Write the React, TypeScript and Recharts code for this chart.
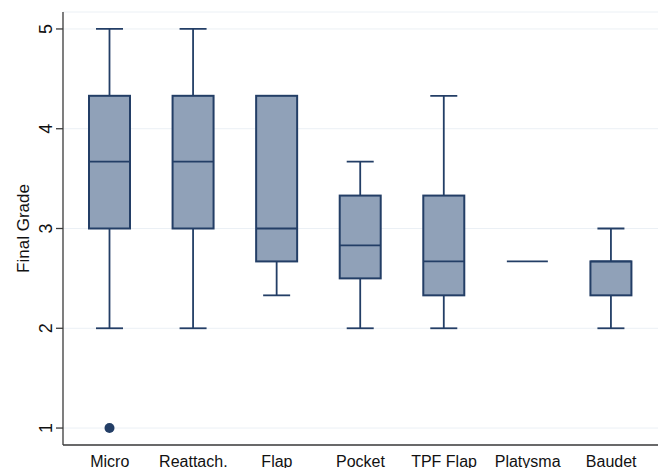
import React from "react";
import { BarChart, Bar, XAxis, YAxis, CartesianGrid } from "recharts";

const categories = ["Micro", "Reattach.", "Flap", "Pocket", "TPF Flap", "Platysma", "Baudet"];
const whiskerLow = [2, 2, 2.33, 2, 2, 2.67, 2];
const q1 = [3, 3, 2.67, 2.5, 2.33, 2.67, 2.33];
const median = [3.67, 3.67, 3, 2.83, 2.67, 2.67, 2.67];
const q3 = [4.33, 4.33, 4.33, 3.33, 3.33, 2.67, 2.67];
const whiskerHigh = [5, 5, 4.33, 3.67, 4.33, 2.67, 3];
const outliers: (number | null)[] = [1, null, null, null, null, null, null];
const yTicks = [1, 2, 3, 4, 5];

const rows = categories.map((name, i) => ({
  name,
  whiskerLow: whiskerLow[i],
  q1: q1[i],
  median: median[i],
  q3: q3[i],
  whiskerHigh: whiskerHigh[i],
  outlier: outliers[i],
  range: [whiskerLow[i], whiskerHigh[i]],
}));

const FONT = '"Liberation Sans", Arial, Helvetica, sans-serif';
const FILL = "#90A1B8";
const STROKE = "#233E66";

const BoxShape = (props: any) => {
  const { x, y, width, height } = props;
  const d = props.payload ?? props;
  const cx = x + width / 2;
  const lo = d.whiskerLow;
  const hi = d.whiskerHigh;
  const span = hi - lo;
  const h = Math.abs(height);
  const top = height >= 0 ? y : y + height;
  const px = (v: number) => (span > 0 ? top + h - ((v - lo) / span) * h : top);
  const capW = 27;
  const yQ1 = px(d.q1);
  const yQ3 = px(d.q3);
  const yMed = px(d.median);
  const yLo = px(lo);
  const yHi = px(hi);
  const isFlat = yQ1 - yQ3 <= 0.5;
  return (
    <g>
      {yLo > yQ1 + 0.5 && (
        <line x1={cx} x2={cx} y1={yQ1} y2={yLo} stroke={STROKE} strokeWidth={1.8} />
      )}
      {yHi < yQ3 - 0.5 && (
        <line x1={cx} x2={cx} y1={yHi} y2={yQ3} stroke={STROKE} strokeWidth={1.8} />
      )}
      {!isFlat && (
        <line x1={cx - capW / 2} x2={cx + capW / 2} y1={yLo} y2={yLo} stroke={STROKE} strokeWidth={1.8} />
      )}
      {!isFlat && (
        <line x1={cx - capW / 2} x2={cx + capW / 2} y1={yHi} y2={yHi} stroke={STROKE} strokeWidth={1.8} />
      )}
      {!isFlat && (
        <rect x={x} y={yQ3} width={width} height={yQ1 - yQ3} fill={FILL} stroke={STROKE} strokeWidth={2} />
      )}
      <line x1={x} x2={x + width} y1={yMed} y2={yMed} stroke={STROKE} strokeWidth={isFlat ? 1.6 : 1.8} />
      {d.outlier != null && (
        <circle cx={cx} cy={px(d.outlier)} r={5} fill={STROKE} />
      )}
    </g>
  );
};

const XTick = (props: any) => {
  const { x, y, payload } = props;
  return (
    <text x={x} y={y + 21.5} textAnchor="middle" fontFamily={FONT} fontSize={16} fill="#111">
      {payload.value}
    </text>
  );
};

const YTick = (props: any) => {
  const { x, y, payload } = props;
  const tx = x - 10;
  return (
    <text
      x={tx}
      y={y}
      transform={`rotate(-90 ${tx} ${y})`}
      textAnchor="middle"
      dominantBaseline="central"
      fontFamily={FONT}
      fontSize={18}
      fill="#111"
    >
      {payload.value}
    </text>
  );
};

const YLabel = (props: any) => {
  const vb = props.viewBox || { x: 0, y: 12, width: 63, height: 433 };
  const lx = vb.x + 23;
  const ly = vb.y + vb.height / 2;
  return (
    <text
      x={lx}
      y={ly}
      transform={`rotate(-90 ${lx} ${ly})`}
      textAnchor="middle"
      dominantBaseline="central"
      fontFamily={FONT}
      fontSize={17}
      fill="#111"
    >
      Final Grade
    </text>
  );
};

export default function App() {
  return (
    <div style={{ position: "absolute", left: 0, top: 0, width: 663, height: 468, background: "#fff" }}>
      <BarChart width={663} height={468} data={rows} margin={{ top: 12, right: 5, bottom: 0, left: 0 }}>
        <CartesianGrid vertical={false} stroke="#EBF0F5" strokeWidth={1} />
        <XAxis
          dataKey="name"
          height={23}
          padding={{ left: 5, right: 5 }}
          tickLine={false}
          tickSize={0}
          tickMargin={0}
          axisLine={{ stroke: "#3a3a3a", strokeWidth: 1.3 }}
          tick={<XTick />}
          interval={0}
        />
        <YAxis
          width={63}
          type="number"
          domain={[0.83, 5.17]}
          allowDataOverflow
          ticks={yTicks}
          tickSize={7}
          tickMargin={0}
          tickLine={{ stroke: "#3a3a3a", strokeWidth: 1.3 }}
          axisLine={{ stroke: "#3a3a3a", strokeWidth: 1.3 }}
          tick={<YTick />}
          label={<YLabel />}
        />
        <Bar dataKey="range" barSize={41} shape={<BoxShape />} isAnimationActive={false} />
      </BarChart>
    </div>
  );
}
